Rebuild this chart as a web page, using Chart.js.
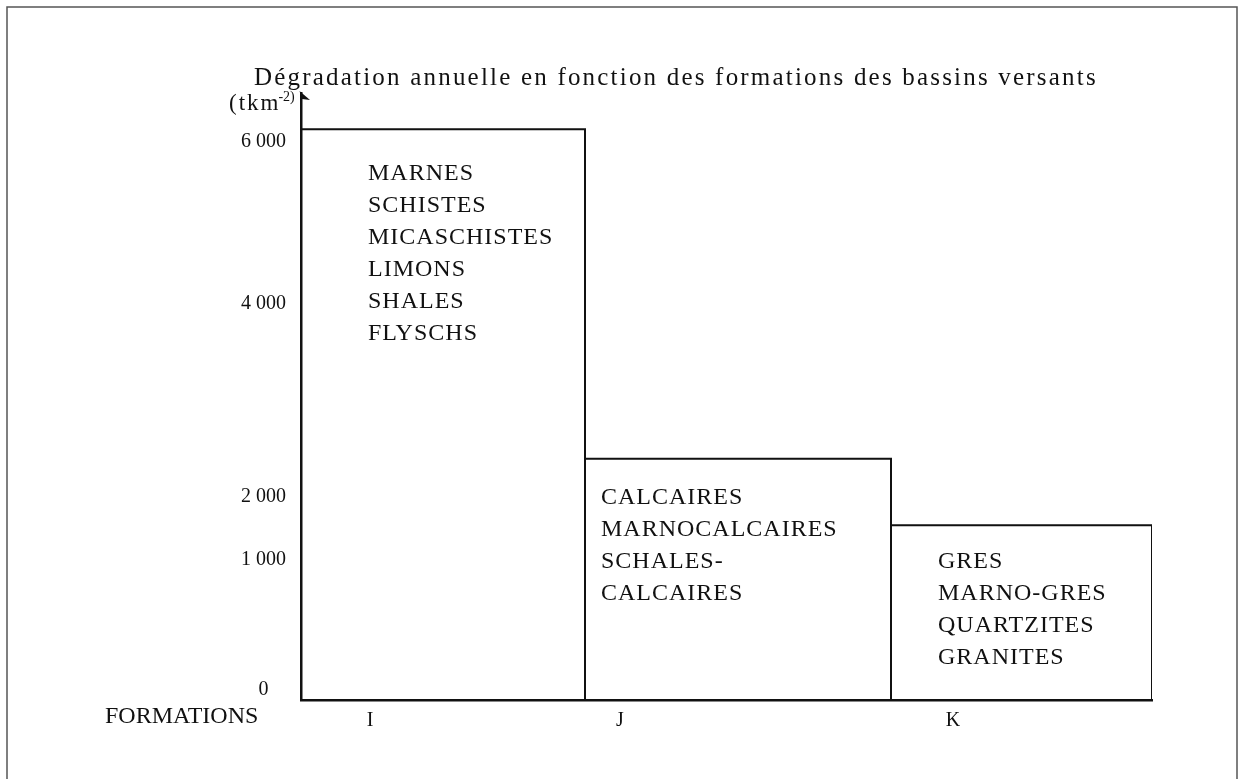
<!DOCTYPE html>
<html>
<head>
<meta charset="utf-8">
<script src="https://cdn.jsdelivr.net/npm/chart.js@4.4.1/dist/chart.umd.min.js"></script>
<style>
  html, body { margin: 0; padding: 0; background: #fff; }
</style>
</head>
<body>
<canvas id="chart" width="1241" height="779"></canvas>
<script>
// Données
const formations = ['I', 'J', 'K'];
const degradation = [6280, 2500, 1710];          // t km-2 an-1
const classWidths = [284, 306, 261];             // largeur relative de chaque classe
const yTicks = [0, 1000, 2000, 4000, 6000];
const yTickLabels = ['0', '1 000', '2 000', '4 000', '6 000'];
const rockTypes = [
    ['MARNES', 'SCHISTES', 'MICASCHISTES', 'LIMONS', 'SHALES', 'FLYSCHS'],
    ['CALCAIRES', 'MARNOCALCAIRES', 'SCHALES-', 'CALCAIRES'],
    ['GRES', 'MARNO-GRES', 'QUARTZITES', 'GRANITES']
];
const titleText = 'Dégradation annuelle en fonction des formations des bassins versants';

// bornes des classes sur l'axe x
const edges = [0];
classWidths.forEach(w => edges.push(edges[edges.length - 1] + w));

// mise en page (pixels)
const labelInset = [69, 35, 62];   // position des lettres I, J, K dans chaque classe
const listInset = [67, 16, 47];    // retrait des listes de roches
const listDrop = [44, 39, 36];     // première ligne sous le haut du rectangle
const lineGap = 32;
const serif = "'Liberation Serif', 'Times New Roman', serif";

// Axe y à graduation irrégulière (comme sur la figure d'origine)
class WarpedScale extends Chart.LinearScale {
    warp(v) {
        const k = this.options.knots;
        if (v <= k[0][0]) return k[0][1];
        for (let i = 1; i < k.length; i++) {
            if (v <= k[i][0]) {
                const t = (v - k[i - 1][0]) / (k[i][0] - k[i - 1][0]);
                return k[i - 1][1] + t * (k[i][1] - k[i - 1][1]);
            }
        }
        return k[k.length - 1][1];
    }
    unwarp(f) {
        const k = this.options.knots;
        for (let i = 1; i < k.length; i++) {
            if (f <= k[i][1]) {
                const t = (f - k[i - 1][1]) / (k[i][1] - k[i - 1][1]);
                return k[i - 1][0] + t * (k[i][0] - k[i - 1][0]);
            }
        }
        return k[k.length - 1][0];
    }
    getPixelForValue(value) {
        if (value === null || isNaN(value)) return NaN;
        return this.getPixelForDecimal(this.warp(value));
    }
    getValueForPixel(pixel) {
        return this.unwarp(this.getDecimalForPixel(pixel));
    }
}
WarpedScale.id = 'warped';
WarpedScale.defaults = Chart.LinearScale.defaults;
Chart.register(WarpedScale);

// Textes, flèche et cadre
const decorPlugin = {
    id: 'decor',
    afterDraw(chart) {
        const ctx = chart.ctx;
        const xs = chart.scales.x, ys = chart.scales.y;
        const area = chart.chartArea;
        ctx.save();

        // cadre de la figure
        ctx.strokeStyle = '#555';
        ctx.lineWidth = 1.5;
        ctx.strokeRect(7, 7, 1230, 800);

        ctx.fillStyle = '#111';
        ctx.textBaseline = 'middle';
        ctx.textAlign = 'left';

        // titre
        ctx.font = '25px ' + serif;
        ctx.letterSpacing = '2.2px';
        ctx.fillText(titleText, 254, 78);

        // unité
        ctx.font = '23px ' + serif;
        ctx.letterSpacing = '2px';
        ctx.fillText('(tkm', 229, 104);
        const w = ctx.measureText('(tkm').width;
        ctx.font = '14px ' + serif;
        ctx.letterSpacing = '0px';
        ctx.fillText('-2)', 227 + w, 97);

        // flèche de l'axe y
        ctx.beginPath();
        ctx.moveTo(area.left - 1.5, area.top - 2);
        ctx.lineTo(area.left + 9, area.top + 7);
        ctx.lineTo(area.left + 1, area.top + 6);
        ctx.closePath();
        ctx.fill();

        // FORMATIONS
        ctx.font = '24px ' + serif;
        ctx.fillText('FORMATIONS', 105, area.bottom + 17);

        // listes de roches
        ctx.letterSpacing = '1px';
        rockTypes.forEach((list, i) => {
            const x = xs.getPixelForValue(edges[i]) + listInset[i];
            const top = ys.getPixelForValue(degradation[i]) + listDrop[i];
            list.forEach((txt, j) => ctx.fillText(txt, x, top + j * lineGap));
        });
        ctx.restore();
    }
};

const datasets = formations.map((f, i) => ({
    label: f,
    data: [
        { x: edges[i], y: 0 },
        { x: edges[i], y: degradation[i] },
        { x: edges[i + 1], y: degradation[i] },
        { x: edges[i + 1], y: 0 }
    ],
    showLine: true,
    borderColor: '#111',
    borderWidth: 2,
    pointRadius: 0,
    fill: false,
    tension: 0
}));

Chart.defaults.font.family = serif;
Chart.defaults.color = '#111';

new Chart(document.getElementById('chart'), {
    type: 'scatter',
    data: { datasets },
    plugins: [decorPlugin],
    options: {
        responsive: false,
        animation: false,
        layout: { padding: { left: 211, right: 89, top: 93, bottom: 39 } },
        plugins: {
            legend: { display: false },
            tooltip: { enabled: false }
        },
        scales: {
            x: {
                type: 'linear',
                min: 0,
                max: edges[edges.length - 1],
                grid: { display: false },
                border: { display: true, color: '#111', width: 2.5 },
                afterBuildTicks: s => { s.ticks = formations.map((f, i) => ({ value: edges[i] + labelInset[i] })); },
                afterFit: s => { s.height = 40; },
                ticks: {
                    font: { size: 20 },
                    padding: 1,
                    maxRotation: 0,
                    autoSkip: false,
                    callback: (v, i) => formations[i]
                }
            },
            y: {
                type: 'warped',
                min: 0,
                max: 6730,
                knots: [[0, 0], [1000, 0.2142], [2000, 0.318], [4000, 0.636], [6000, 0.9028], [6730, 1]],
                grid: { display: false },
                border: { display: true, color: '#111', width: 2.5 },
                afterBuildTicks: s => { s.ticks = yTicks.map(v => ({ value: v })); },
                afterFit: s => { s.width = 90; },
                ticks: {
                    font: { size: 20 },
                    padding: 7,
                    crossAlign: 'center',
                    labelOffset: -10,
                    autoSkip: false,
                    callback: (v, i) => yTickLabels[i]
                }
            }
        }
    }
});
</script>
</body>
</html>
